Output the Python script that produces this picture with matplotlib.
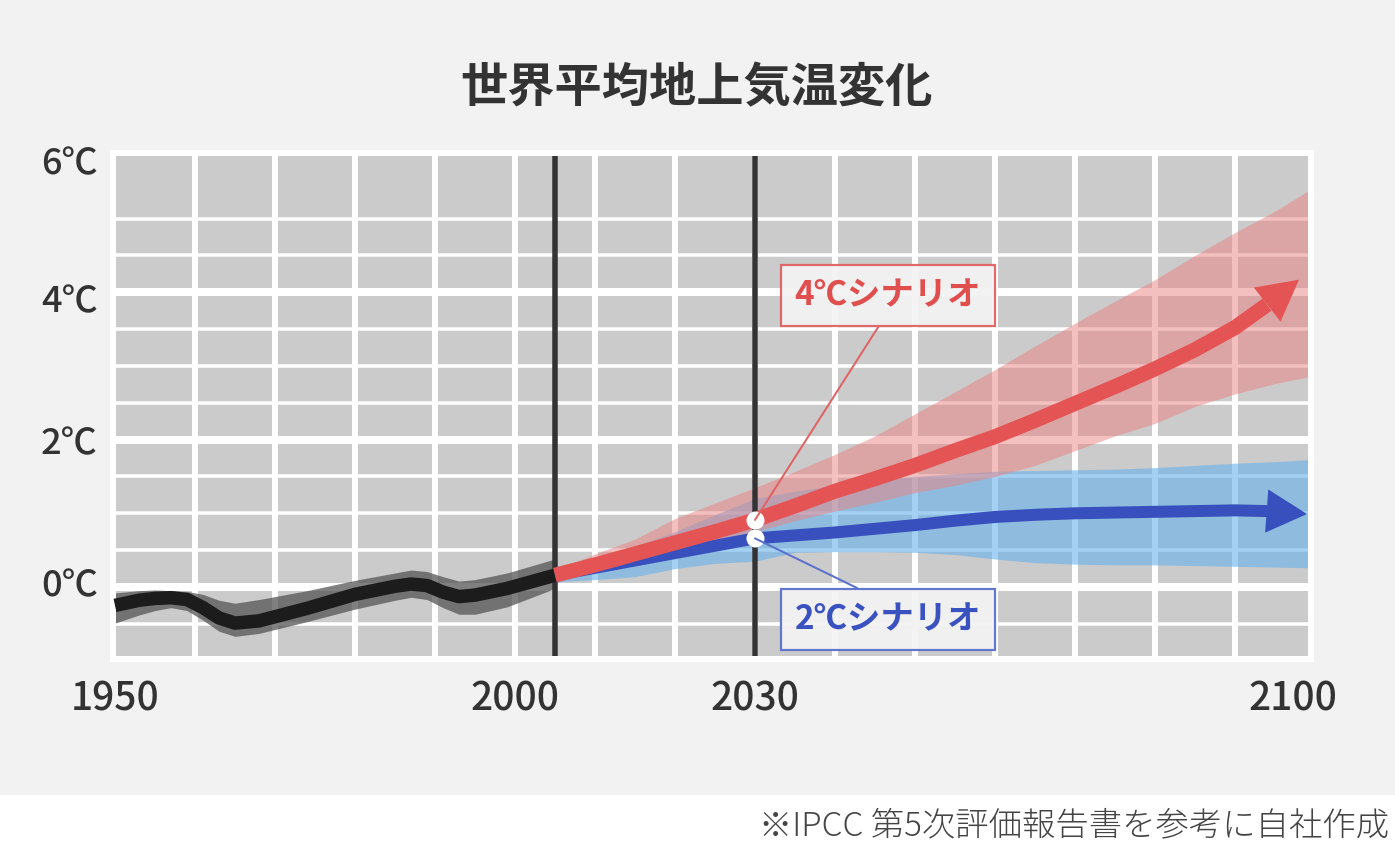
import matplotlib
matplotlib.use('Agg')
import matplotlib.pyplot as plt
from matplotlib.patches import Rectangle

plt.rcParams['font.family'] = ['Noto Sans CJK JP', 'DejaVu Sans']

# ---------------- data ----------------
title = '世界平均地上気温変化'
source_note = '※IPCC 第5次評価報告書を参考に自社作成'

hist_years = [1950, 1953, 1955, 1957, 1959, 1961, 1963, 1965, 1968, 1974, 1980,
              1985, 1987, 1989, 1991, 1993, 1995, 1999, 2005]
hist_temp = [-0.25, -0.18, -0.155, -0.145, -0.17, -0.28, -0.42, -0.49, -0.46, -0.29, -0.10,
             0.01, 0.04, 0.02, -0.07, -0.13, -0.11, -0.02, 0.16]
hist_upper = [-0.08, -0.05, -0.04, -0.05, -0.06, -0.10, -0.18, -0.22, -0.17, -0.05, 0.09,
              0.19, 0.23, 0.21, 0.14, 0.08, 0.10, 0.19, 0.38]
hist_lower = [-0.49, -0.38, -0.32, -0.28, -0.32, -0.45, -0.60, -0.67, -0.63, -0.47, -0.30,
              -0.18, -0.14, -0.17, -0.28, -0.37, -0.37, -0.27, -0.02]

band_years = [2005, 2010, 2015, 2020, 2025, 2030, 2035, 2040, 2045, 2050,
              2055, 2060, 2065, 2070, 2075, 2080, 2085, 2090, 2095, 2099.5]
red_upper = [0.22, 0.45, 0.65, 0.93, 1.14, 1.35, 1.57, 1.80, 2.05, 2.35,
             2.65, 2.95, 3.27, 3.58, 3.88, 4.17, 4.50, 4.81, 5.10, 5.40]
red_lower = [0.12, 0.22, 0.33, 0.45, 0.60, 0.75, 0.90, 1.03, 1.15, 1.28,
             1.38, 1.50, 1.65, 1.85, 2.05, 2.22, 2.45, 2.62, 2.76, 2.86]
blue_upper = [0.18, 0.35, 0.55, 0.75, 0.98, 1.20, 1.30, 1.38, 1.45, 1.50,
              1.54, 1.57, 1.58, 1.59, 1.60, 1.62, 1.65, 1.68, 1.70, 1.73]
blue_lower = [0.07, 0.10, 0.14, 0.25, 0.32, 0.35, 0.47, 0.48, 0.48, 0.47,
              0.44, 0.38, 0.33, 0.31, 0.30, 0.30, 0.29, 0.28, 0.27, 0.26]

red_years = [2005, 2010, 2015, 2020, 2025, 2030, 2035, 2040, 2045, 2050,
             2055, 2060, 2065, 2070, 2075, 2080, 2085, 2090, 2094, 2098]
red_temp = [0.16, 0.30, 0.45, 0.60, 0.75, 0.91, 1.10, 1.30, 1.47, 1.65,
            1.85, 2.04, 2.26, 2.49, 2.72, 2.96, 3.22, 3.52, 3.83, 4.17]
blue_years = [2005, 2010, 2015, 2020, 2025, 2030, 2035, 2040, 2045, 2050,
              2055, 2060, 2065, 2070, 2075, 2080, 2085, 2090, 2094, 2099]
blue_temp = [0.16, 0.26, 0.36, 0.46, 0.56, 0.66, 0.70, 0.74, 0.79, 0.84,
             0.90, 0.95, 0.98, 1.00, 1.01, 1.02, 1.03, 1.04, 1.03, 0.99]

marker_year = 2030
label_4c = '4℃シナリオ'
label_2c = '2℃シナリオ'
x_tick_labels = ['1950', '2000', '2030', '2100']
y_tick_labels = ['0℃', '2℃', '4℃', '6℃']

# ---------------- style / layout ----------------
DPI = 100
W, H = 1395, 843
PT = 72 / DPI  # points per pixel

RED = '#e55454'
RED_BAND = '#eb8181'
BLUE = '#3750be'
BLUE_BAND = '#67b2ec'
TXT = '#333333'

fig = plt.figure(figsize=(W / DPI, H / DPI), dpi=DPI, facecolor='#f2f2f2')
fig.patches.append(Rectangle((0, 0), 1, 48 / H, transform=fig.transFigure,
                             facecolor='white', edgecolor='none', zorder=0))

ax = fig.add_axes([113 / W, 184 / H, 1198 / W, 506 / H])
ax.set_facecolor('#cbcbcb')
ax.set_xlim(1949.75, 2099.5)
ax.set_ylim(-0.977, 5.889)
for s in ax.spines.values():
    s.set_color('white')
    s.set_linewidth(6 * PT)

# grid
h_levels = [-0.5 + 0.5 * i for i in range(12)]
for yv in h_levels:
    thick = abs(yv) % 2 == 0
    ax.axhline(yv, color='white', lw=(8 if thick else 3.5) * PT, zorder=0.5)
for xv in range(1960, 2100, 10):
    ax.axvline(xv, color='white', lw=6 * PT, zorder=0.5)

# historical
ax.fill_between(hist_years, hist_lower, hist_upper, color='#555555', alpha=0.75,
                lw=0, zorder=1.3)
ax.plot(hist_years, hist_temp, color='#1c1c1c', lw=13.5 * PT,
        solid_capstyle='butt', solid_joinstyle='round', zorder=3)

# bands
ax.fill_between(band_years, blue_lower, blue_upper, color=BLUE_BAND, alpha=0.6,
                lw=0, zorder=1.1)
ax.fill_between(band_years, red_lower, red_upper, color=RED_BAND, alpha=0.5,
                lw=0, zorder=1.2)

# reference vertical lines
for xv in (band_years[0], marker_year):
    ax.axvline(xv, color='#333333', lw=5.5 * PT, zorder=2)

# scenario lines with arrowheads
for yrs, tmp, col, lw, z in ((blue_years, blue_temp, BLUE, 12, 3.2),
                             (red_years, red_temp, RED, 15, 3.4)):
    ax.plot(yrs[:-1], tmp[:-1], color=col, lw=lw * PT, solid_capstyle='butt',
            solid_joinstyle='round', zorder=z)
    ax.annotate('', xy=(yrs[-1], tmp[-1]), xytext=(yrs[-2], tmp[-2]),
                arrowprops=dict(arrowstyle='-|>,head_length=0.97,head_width=0.52',
                                mutation_scale=30, color=col, lw=0,
                                shrinkA=0, shrinkB=0),
                zorder=z + 0.05)

# markers at 2030
r30 = red_temp[red_years.index(marker_year)]
b30 = blue_temp[blue_years.index(marker_year)]
ax.plot([marker_year, marker_year], [r30, b30], ls='none', marker='o',
        ms=18 * PT, mfc='white', mec='none', zorder=4)

# labels
for txt, yv, pos, col, ecol, rel in ((label_4c, r30, (2046.6, 3.955), '#e04e4e', '#e06262', (0.5, 0)),
                                     (label_2c, b30, (2046.6, -0.44), '#3a52c0', '#5a70cc', (0.5, 1))):
    ax.annotate(txt, xy=(marker_year, yv), xytext=pos, textcoords='data',
                ha='center', va='center', fontsize=24, fontweight='bold', color=col,
                bbox=dict(boxstyle='square,pad=0.42', fc='#f3f3f3', ec=ecol, lw=2.2 * PT,
                          alpha=0.95),
                arrowprops=dict(arrowstyle='-', color=ecol, lw=2 * PT, shrinkA=0,
                                shrinkB=0, relpos=rel),
                zorder=5)

# ticks
ax.set_xticks([1950, 2000, 2030, 2097.2])
ax.set_xticklabels(x_tick_labels)
ax.set_yticks([0.07, 1.99, 3.92, 5.79])
ax.set_yticklabels(y_tick_labels)
ax.tick_params(axis='both', length=0, colors=TXT)
ax.tick_params(axis='x', pad=15, labelsize=28)
ax.tick_params(axis='y', pad=11, labelsize=26)
for lab in ax.get_xticklabels() + ax.get_yticklabels():
    lab.set_fontweight(500)

fig.text(697 / W, 1 - 88 / H, title, ha='center', va='center', fontsize=34,
         fontweight='bold', color=TXT)
fig.text(1389 / W, 1 - 826 / H, source_note, ha='right', va='center', fontsize=24,
         color='#444444', fontweight=300)

fig.savefig('out.png', dpi=DPI, facecolor=fig.get_facecolor())
